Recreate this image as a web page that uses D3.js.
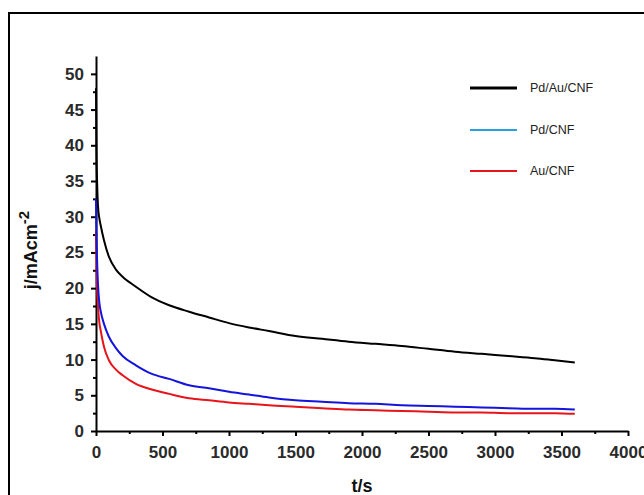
<!DOCTYPE html>
<meta charset="utf-8">
<html>
<head>
<style>
  body { margin: 0; background: #fff; }
  .tick text { font-family: "Liberation Sans", Arial, sans-serif; font-weight: bold; font-size: 17px; fill: #2a2a2a; }
  .axis path, .axis line { stroke: #000; stroke-width: 2px; }
  .curve { fill: none; stroke-width: 2px; stroke-linejoin: round; }
  .title { font-family: "Liberation Sans", Arial, sans-serif; font-weight: bold; font-size: 18px; fill: #111; }
  .leg { font-family: "Liberation Sans Narrow", "Liberation Sans", Arial, sans-serif; font-size: 12.5px; fill: #222; }
</style>
</head>
<body>
<svg width="644" height="495"></svg>
<script src="https://d3js.org/d3.v7.min.js"></script>
<script>

// shared time base (s)
var time = [0, 3, 8, 15, 25, 35, 60, 97, 150, 200, 300, 420, 550, 700, 850, 1000, 1150, 1300,
            1500, 1700, 1900, 2100, 2300, 2500, 2700, 2900, 3100, 3300, 3450, 3600];

var pdAuCnf = [48, 40, 35, 31.5, 29.8, 28.8, 26.7, 24.4, 22.6, 21.6, 20.2, 18.7, 17.6, 16.7, 15.9, 15.1,
               14.5, 14.0, 13.3, 12.9, 12.5, 12.2, 11.9, 11.5, 11.1, 10.8, 10.5, 10.2, 9.9, 9.6];
var pdCnf   = [32.5, 28, 24, 20.5, 18, 16.8, 15.0, 13.2, 11.6, 10.5, 9.2, 8.0, 7.3, 6.4, 6.0, 5.5,
               5.1, 4.7, 4.3, 4.1, 3.9, 3.8, 3.6, 3.5, 3.4, 3.3, 3.2, 3.1, 3.1, 3.0];
var auCnf   = [28, 24, 20, 17.5, 15.2, 14.1, 11.8, 9.9, 8.6, 7.8, 6.6, 5.8, 5.2, 4.6, 4.3, 4.0,
               3.8, 3.6, 3.4, 3.2, 3.0, 2.9, 2.8, 2.7, 2.6, 2.6, 2.5, 2.5, 2.5, 2.4];

var seriesNames = ["Pd/Au/CNF", "Pd/CNF", "Au/CNF"];
var seriesVals = [pdAuCnf, pdCnf, auCnf];
var curveColors = ["#000000", "#1414dc", "#e8141c"];
var legendColors = ["#000000", "#2a9fe0", "#e8141c"];

var xTicks = [0, 500, 1000, 1500, 2000, 2500, 3000, 3500, 4000];
var yTicks = [0, 5, 10, 15, 20, 25, 30, 35, 40, 45, 50];

var svg = d3.select("svg");

// outer frame
svg.append("rect")
    .attr("x", 9).attr("y", 13)
    .attr("width", 700).attr("height", 600)
    .attr("fill", "none").attr("stroke", "#000").attr("stroke-width", 2);

var x = d3.scaleLinear().domain([0, 4000]).range([96, 628]),
    y = d3.scaleLinear().domain([0, 52.5]).range([431, 56]);

// minor ticks
var xMinor = d3.range(250, 4000, 500), yMinor = d3.range(2.5, 52.5, 5);

var gx = svg.append("g")
    .attr("class", "axis")
    .attr("transform", "translate(0," + y(0) + ")");
gx.call(d3.axisBottom(x).tickValues(xMinor).tickSize(3).tickFormat(""));
gx.call(g => g.selectAll(".domain").remove());
svg.append("g")
    .attr("class", "axis")
    .attr("transform", "translate(0," + y(0) + ")")
    .call(d3.axisBottom(x).tickValues(xTicks).tickSize(5).tickSizeOuter(0)
          .tickPadding(10).tickFormat(d3.format("d")));

var gy = svg.append("g")
    .attr("class", "axis")
    .attr("transform", "translate(" + x(0) + ",0)");
gy.call(d3.axisLeft(y).tickValues(yMinor).tickSize(3).tickFormat(""));
gy.call(g => g.selectAll(".domain").remove());
svg.append("g")
    .attr("class", "axis")
    .attr("transform", "translate(" + x(0) + ",0)")
    .call(d3.axisLeft(y).tickValues(yTicks).tickSize(5).tickSizeOuter(0)
          .tickPadding(7).tickFormat(d3.format("d")));

// curves
var line = d3.line()
    .x(function (d) { return x(d[0]); })
    .y(function (d) { return y(d[1]); })
    .curve(d3.curveMonotoneX);

// draw red first, black last
[2, 1, 0].forEach(function (i) {
  svg.append("path")
      .datum(time.map(function (t, k) { return [t, seriesVals[i][k]]; }))
      .attr("class", "curve")
      .attr("stroke", curveColors[i])
      .attr("d", line);
});

// legend
var legY = [88, 130, 171];
seriesNames.forEach(function (name, i) {
  svg.append("line")
      .attr("x1", 470).attr("x2", 517)
      .attr("y1", legY[i]).attr("y2", legY[i])
      .attr("stroke", legendColors[i])
      .attr("stroke-width", i === 0 ? 3 : 2);
  svg.append("text")
      .attr("class", "leg")
      .attr("x", 530).attr("y", legY[i] + 4)
      .text(name);
});

// axis titles
svg.append("text")
    .attr("class", "title")
    .attr("x", 362).attr("y", 492)
    .attr("text-anchor", "middle")
    .text("t/s");

var yt = svg.append("text")
    .attr("class", "title")
    .attr("transform", "translate(37,250) rotate(-90)")
    .attr("text-anchor", "middle");
yt.append("tspan").text("j/mAcm");
yt.append("tspan").attr("dy", -8).attr("font-size", 15).text("-2");

</script>
</body>
</html>
